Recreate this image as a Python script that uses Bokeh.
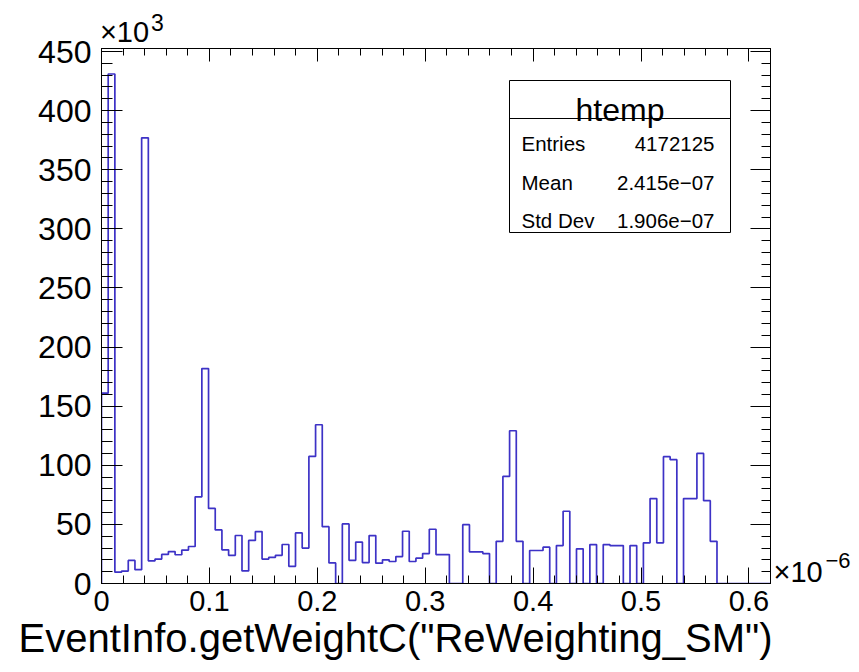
import numpy as np
from bokeh.plotting import figure
from bokeh.models import Range1d, FixedTicker, LinearAxis, CustomJSTickFormatter, Label, Title
from bokeh.embed import file_html
from bokeh.resources import INLINE

# ---- histogram "htemp": 100 bins on [0, 0.62] (x 1e-6), entries per bin in thousands ----
x_min, x_max, n_bins = 0.0, 0.62, 100
counts_k = [
    161.0, 431.0, 9.6, 10.5, 19.5, 11.7, 377.0, 19.2, 20.7, 24.6,
    27.0, 24.3, 28.3, 31.3, 73.3, 181.8, 63.5, 45.3, 28.5, 23.8,
    40.6, 10.6, 36.4, 43.9, 20.7, 22.1, 23.8, 33.0, 14.5, 42.8,
    30.0, 107.5, 134.3, 48.1, 17.4, 0.0, 50.4, 19.6, 35.0, 17.7,
    40.5, 17.2, 20.0, 18.6, 22.8, 44.2, 18.6, 21.4, 25.3, 45.9,
    24.5, 24.5, 0.0, 0.0, 49.8, 26.8, 26.8, 25.3, 0.0, 35.7,
    90.6, 129.2, 35.7, 0.0, 27.9, 27.9, 30.7, 0.0, 32.1, 61.1,
    0.0, 29.3, 0.0, 32.9, 0.0, 32.9, 32.1, 32.1, 0.0, 32.1,
    0.0, 34.4, 71.8, 34.4, 107.3, 104.7, 0.0, 71.8, 71.8, 110.0,
    70.1, 35.7, 0.0, 0.0, 0.0, 0.0, 0.0, 0.0, 0.0, 0.0,
]

x_ticks = [0, 0.1, 0.2, 0.3, 0.4, 0.5, 0.6]
x_minor_ticks = [round(0.02 * i, 2) for i in range(32)]
y_ticks = [0, 50, 100, 150, 200, 250, 300, 350, 400, 450]
y_minor_ticks = list(range(0, 451, 10))

hist_name = "htemp"
stat_names = ["Entries", "Mean", "Std Dev"]
stat_values = ["4172125", "2.415e\u221207", "1.906e\u221207"]
x_title = 'EventInfo.getWeightC("ReWeighting_SM")'
mult_base = "\u00d710"
y_exponent = "3"
x_exponent = "\u22126"

FONT = "Liberation Sans"
LINE_COLOR = "#3d32c6"

# ---- canvas / frame geometry ----
W, H = 859, 672
L, R, T, B = 101, 89, 48, 89
FW, FH = W - L - R, H - T - B
y_max = 1.05 * max(counts_k)


def px_x(px):
    return x_min + (px - L) / FW * (x_max - x_min)


def px_y(py):
    return (H - B - py) / FH * y_max


p = figure(width=W, height=H,
           x_range=Range1d(x_min, x_max), y_range=Range1d(0, y_max),
           output_backend="svg", toolbar_location=None,
           x_axis_location=None, y_axis_location=None,
           min_border_left=L, min_border_right=R,
           min_border_top=T, min_border_bottom=B)
p.title.visible = False
p.xgrid.visible = False
p.ygrid.visible = False
p.outline_line_color = "black"
p.outline_line_width = 1
p.background_fill_color = "white"
p.border_fill_color = "white"

x_fmt = CustomJSTickFormatter(code="return tick === 0 ? '0' : tick.toFixed(1);")
y_fmt = CustomJSTickFormatter(code="return tick.toFixed(0);")
blank = CustomJSTickFormatter(code="return '';")


def make_axis(ticks, minor, fmt, major_in, minor_in, size, standoff):
    ax = LinearAxis(ticker=FixedTicker(ticks=ticks, minor_ticks=minor), formatter=fmt)
    ax.axis_line_color = "black"
    ax.major_tick_line_color = "black"
    ax.minor_tick_line_color = "black"
    ax.major_tick_in = major_in
    ax.major_tick_out = 0
    ax.minor_tick_in = minor_in
    ax.minor_tick_out = 0
    ax.major_label_text_font = FONT
    ax.major_label_text_font_size = size
    ax.major_label_text_color = "black"
    ax.major_label_standoff = standoff
    return ax


def label_axis(pos, text, size, standoff):
    # an axis without lines that only carries one text label at a given position
    ax = LinearAxis(ticker=FixedTicker(ticks=[pos], minor_ticks=[]),
                    formatter=CustomJSTickFormatter(code="return %r;" % text))
    ax.axis_line_color = None
    ax.major_tick_line_color = None
    ax.minor_tick_line_color = None
    ax.major_tick_in = 0
    ax.major_tick_out = 0
    ax.major_label_text_font = FONT
    ax.major_label_text_font_size = size
    ax.major_label_text_color = "black"
    ax.major_label_standoff = standoff
    return ax


p.add_layout(make_axis(x_ticks, x_minor_ticks, x_fmt, 16, 8, "29px", 7), "below")
p.add_layout(make_axis(y_ticks, y_minor_ticks, y_fmt, 21, 11, "32px", 10), "left")
p.add_layout(make_axis(x_ticks, x_minor_ticks, blank, 13, 7, "0px", 0), "above")
p.add_layout(make_axis(y_ticks, y_minor_ticks, blank, 20, 9, "0px", 0), "right")

# axis multipliers: x10^3 above the top-left corner, x10^-6 right of the x axis end
p.add_layout(label_axis(px_x(124), mult_base, "29px", 1), "above")
p.add_layout(label_axis(px_x(157), y_exponent, "23px", -18), "above")
p.add_layout(label_axis(px_y(571), mult_base, "29px", 3), "right")
p.add_layout(label_axis(px_y(560), x_exponent, "22px", 0), "right")

# x-axis title, flush with the right end of the axis
p.add_layout(Title(text=x_title, align="right", offset=-2, standoff=0,
                   text_font=FONT, text_font_size="40px", text_font_style="normal",
                   text_color="black"), "below")

# ---- histogram outline (step line through bin edges) ----
edges = np.linspace(x_min, x_max, n_bins + 1)
c = np.asarray(counts_k, dtype=float)
xs = np.concatenate([[edges[0]], np.repeat(edges, 2)[1:-1], [edges[-1]]])
ys = np.concatenate([[0.0], np.repeat(c, 2), [0.0]])
p.line(xs, ys, line_color=LINE_COLOR, line_width=1.7)

# ---- statistics box ----
bx0, bx1, by0, by1, by_div = 509, 730, 80, 232, 118
p.quad(left=px_x(bx0), right=px_x(bx1), top=px_y(by0), bottom=px_y(by1),
       fill_color="white", line_color="black", line_width=1)
p.segment(x0=px_x(bx0), y0=px_y(by_div), x1=px_x(bx1), y1=px_y(by_div),
          line_color="black", line_width=1)
p.add_layout(Label(x=px_x((bx0 + bx1) / 2), y=px_y(109), text=hist_name,
                   text_align="center", text_baseline="alphabetic",
                   text_font=FONT, text_font_size="32px", text_color="black"))
for i, (name, val) in enumerate(zip(stat_names, stat_values)):
    base = [143, 182, 220][i]
    p.add_layout(Label(x=px_x(521), y=px_y(base), text=name,
                       text_align="left", text_baseline="alphabetic",
                       text_font=FONT, text_font_size="20.5px", text_color="black"))
    p.add_layout(Label(x=px_x(714), y=px_y(base), text=val,
                       text_align="right", text_baseline="alphabetic",
                       text_font=FONT, text_font_size="20.5px", text_color="black"))

open("out.html", "w").write(file_html(p, INLINE))
